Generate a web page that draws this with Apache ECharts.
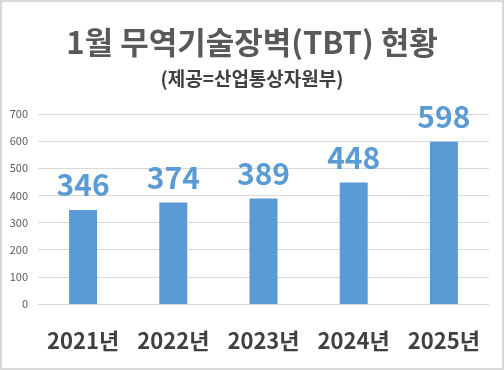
<!DOCTYPE html>
<html><head><meta charset="utf-8">
<script src="https://cdn.jsdelivr.net/npm/echarts@6/dist/echarts.min.js"></script>
<style>
html,body{margin:0;padding:0;background:#fff;}
#c{width:504px;height:370px;box-sizing:border-box;border:2px solid #d9d9d9;}
</style></head>
<body><div id="c"></div>
<script>
const categories = ['2021년','2022년','2023년','2024년','2025년'];
const values = [346, 374, 389, 448, 598];
const titleText = '1월 무역기술장벽(TBT) 현황';
const subtitleText = '(제공=산업통상자원부)';
const font = '"Noto Sans CJK KR", "Noto Sans", sans-serif';
const chart = echarts.init(document.getElementById('c'));
chart.setOption({
  animation:false,
  title:{
    text:titleText, subtext:subtitleText, left:'center', top:20, itemGap:11,
    textStyle:{fontFamily:font, fontSize:31, fontWeight:'bold', color:'#595959'},
    subtextStyle:{fontFamily:font, fontSize:19, fontWeight:'bold', color:'#404040'}
  },
  grid:{left:36, right:13, top:112, bottom:64},
  xAxis:{type:'category', data:categories,
    axisLine:{show:true, lineStyle:{color:'#d9d9d9'}}, axisTick:{show:false},
    axisLabel:{interval:0, fontFamily:font, fontSize:22, fontWeight:'bold', color:'#404040', margin:26}},
  yAxis:{type:'value', min:0, max:700, interval:100,
    axisLine:{show:false}, axisTick:{show:false},
    splitLine:{lineStyle:{color:'#d9d9d9'}},
    axisLabel:{fontFamily:font, fontSize:11, color:'#595959', margin:10}},
  series:[{type:'bar', data:values, barWidth:28,
    itemStyle:{color:'#5b9bd5'},
    label:{show:true, position:'top', distance:10, fontFamily:font, fontSize:30, fontWeight:'bold', color:'#5b9bd5'}}]
});
</script></body></html>
